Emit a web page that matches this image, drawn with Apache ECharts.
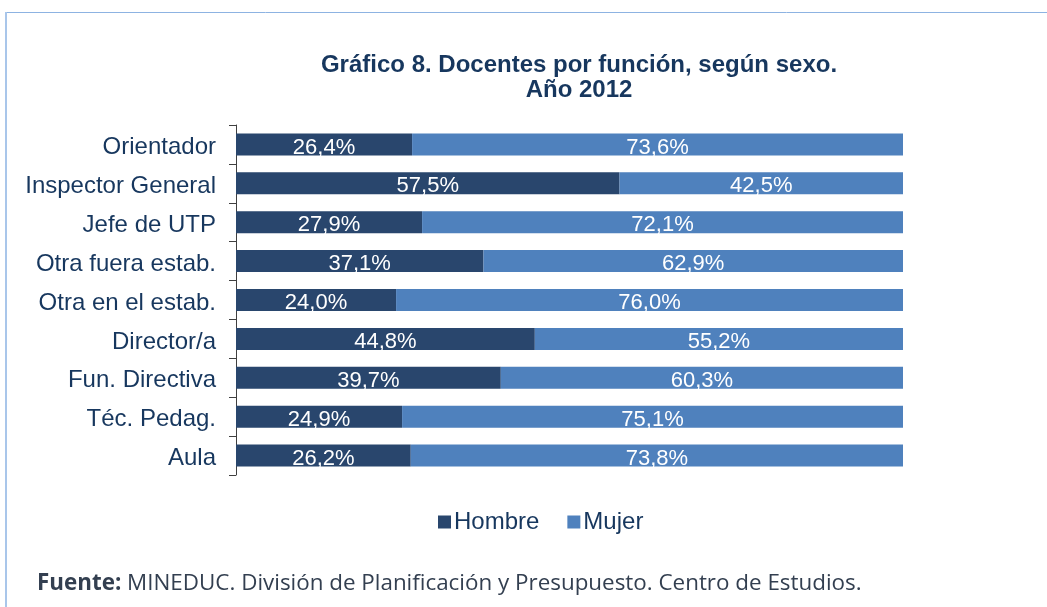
<!DOCTYPE html>
<html>
<head>
<meta charset="utf-8">
<script src="https://cdn.jsdelivr.net/npm/echarts@6/dist/echarts.min.js"></script>
<style>
html,body{margin:0;padding:0;background:#fff;}
#chart{width:1047px;height:607px;}
</style>
</head>
<body>
<div id="chart"></div>
<script>
const categories = ['Orientador','Inspector General','Jefe de UTP','Otra fuera estab.','Otra en el estab.','Director/a','Fun. Directiva','Téc. Pedag.','Aula'];
const hombre = [26.4,57.5,27.9,37.1,24.0,44.8,39.7,24.9,26.2];
const mujer = [73.6,42.5,72.1,62.9,76.0,55.2,60.3,75.1,73.8];
const seriesNames = ['Hombre','Mujer'];

const chart = echarts.init(document.getElementById('chart'));
const fmt = p => p.value.toFixed(1).replace('.', ',') + '%';
const navy = '#17375E';
chart.setOption({
  backgroundColor: '#ffffff',
  animation: false,
  title: {
    text: 'Gráfico 8. Docentes por función, según sexo.\nAño 2012',
    left: 574, top: 48, textAlign: 'center',
    textStyle: {fontFamily: 'Liberation Sans', fontWeight: 'bold', fontSize: 24, color: navy, lineHeight: 25}
  },
  legend: {
    data: seriesNames,
    left: 433, top: 505,
    itemWidth: 13, itemHeight: 13, itemGap: 28,
    icon: 'rect',
    textStyle: {fontFamily: 'Liberation Sans', fontSize: 24, color: navy, padding: [0,0,0,-2]}
  },
  grid: {left: 236, right: 144, top: 125, bottom: 132, containLabel: false},
  xAxis: {type: 'value', min: 0, max: 100, show: false},
  yAxis: {
    type: 'category', data: categories, inverse: true,
    axisLine: {show: true, lineStyle: {color: '#404040', width: 1}},
    axisTick: {show: true, length: 7, lineStyle: {color: '#404040'}},
    axisLabel: {fontFamily: 'Liberation Sans', fontSize: 24, color: navy, margin: 20, verticalAlign: 'top', lineHeight: 6}
  },
  series: [
    {name: seriesNames[0], type: 'bar', stack: 't', data: hombre, barWidth: 22,
     itemStyle: {color: '#29466D'},
     label: {show: true, position: 'inside', color: '#fff', fontFamily: 'Liberation Sans', fontSize: 22, formatter: fmt, offset: [0, 3]}},
    {name: seriesNames[1], type: 'bar', stack: 't', data: mujer, barWidth: 22,
     itemStyle: {color: '#4F81BD'},
     label: {show: true, position: 'inside', color: '#fff', fontFamily: 'Liberation Sans', fontSize: 22, formatter: fmt, offset: [0, 3]}}
  ],
  graphic: [
    {type: 'line', shape: {x1: 5, y1: 12.5, x2: 1047, y2: 12.5}, style: {stroke: '#8DB3E2', lineWidth: 1}},
    {type: 'line', shape: {x1: 6, y1: 12, x2: 6, y2: 607}, style: {stroke: '#A9C6EA', lineWidth: 2}},
    {type: 'text', left: 37, top: 573,
     style: {
       text: '{b|Fuente:} MINEDUC. División de Planificación y Presupuesto. Centro de Estudios.',
       fontFamily: 'Open Sans', fontSize: 22.4, fill: '#333F50',
       rich: {b: {fontFamily: 'Open Sans', fontWeight: 'bold', fontSize: 22.4, fill: '#333F50'}}
     }}
  ]
});
</script>
</body>
</html>
